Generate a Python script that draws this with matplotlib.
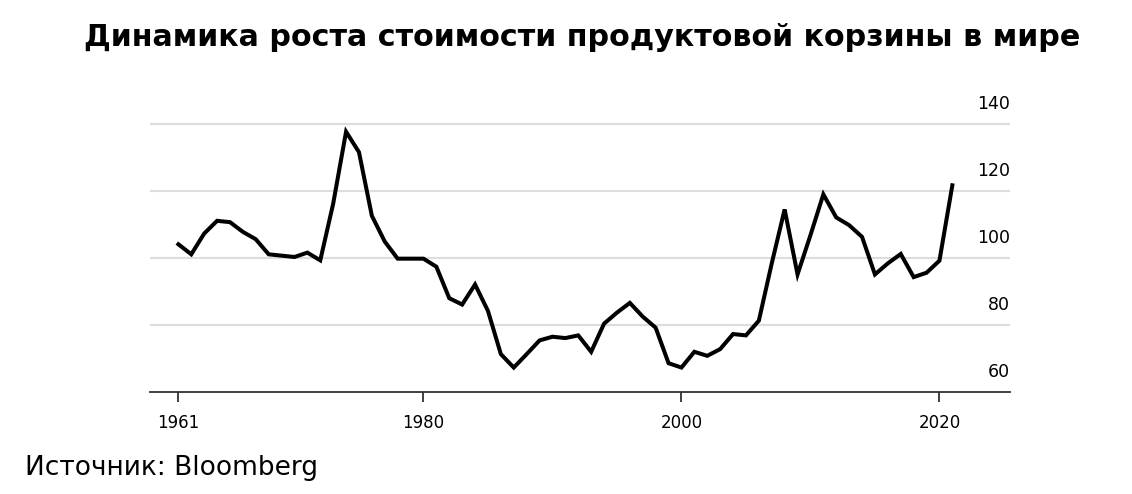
import matplotlib
matplotlib.use("Agg")
import matplotlib.pyplot as plt
import matplotlib.transforms as mtransforms

years = list(range(1961, 2022))
values = [104.1, 101.1, 107.3, 111.1, 110.7, 107.8, 105.6, 101.1, 100.7, 100.3,
          101.6, 99.3, 116.2, 137.7, 131.6, 112.6, 104.9, 99.8, 99.8, 99.8,
          97.4, 88.0, 86.1, 92.1, 84.2, 71.3, 67.3, 71.3, 75.4, 76.5,
          76.1, 76.9, 72.0, 80.4, 83.7, 86.6, 82.5, 79.2, 68.6, 67.3,
          72.0, 70.8, 72.8, 77.3, 76.9, 81.3, 98.4, 114.5, 95.1, 106.8,
          119.0, 112.1, 109.8, 106.3, 95.1, 98.4, 101.2, 94.3, 95.6, 99.2,
          121.7]
y_ticks = [60, 80, 100, 120, 140]
x_ticks = [1961, 1980, 2000, 2020]

title = "Динамика роста стоимости продуктовой корзины в мире"
source = "Источник: Bloomberg"

fig = plt.figure(figsize=(11.32, 4.94), dpi=100)
ax = fig.add_axes([150/1132, 102/494, 860/1132, 284.75/494])

for yt in y_ticks[1:]:
    ax.axhline(yt, color="#dddddd", lw=1.5, zorder=1)

ax.plot(years, values, color="black", lw=2.9, solid_joinstyle="miter", zorder=3)

ax.set_xlim(1958.8, 2025.47)
ax.set_ylim(60, 145)

for s in ["top", "right", "left"]:
    ax.spines[s].set_visible(False)
ax.spines["bottom"].set_color("#333333")
ax.spines["bottom"].set_linewidth(1.3)

ax.set_yticks([])
ax.set_xticks(x_ticks)
ax.set_xticklabels([str(x) for x in x_ticks], fontsize=12, family="DejaVu Sans")
ax.tick_params(axis="x", length=7, width=1.3, color="#333333", pad=9)

trans = mtransforms.offset_copy(ax.get_yaxis_transform(), fig=fig, x=0, y=11, units="dots")
for yt in y_ticks:
    ax.text(1.0, yt, str(yt), transform=trans, ha="right", va="bottom",
            fontsize=12.5, family="DejaVu Sans", clip_on=False)

fig.text(582/1132, 1 - 37/494, title, ha="center", va="center",
         fontsize=21.7, fontweight="bold", family="DejaVu Sans")
fig.text(25/1132, 1 - 468/494, source, ha="left", va="center",
         fontsize=19, family="DejaVu Sans")

fig.savefig("out.png", dpi=100)
